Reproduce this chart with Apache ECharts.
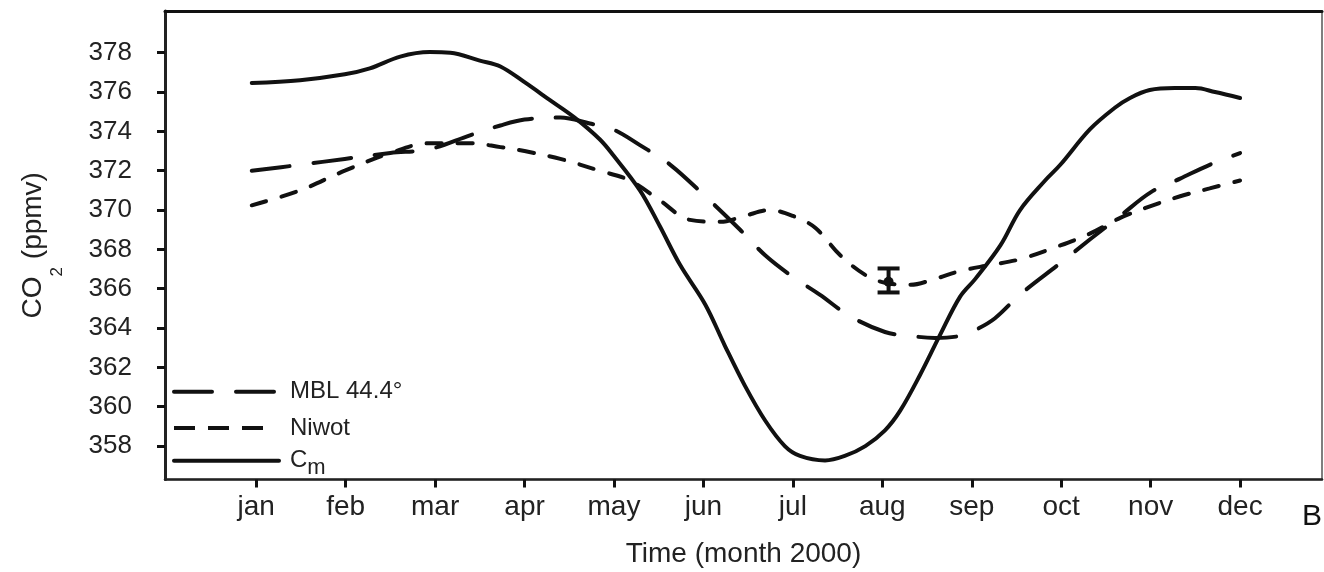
<!DOCTYPE html>
<html>
<head>
<meta charset="utf-8">
<title>CO2 seasonal cycle 2000</title>
<script src="https://cdn.jsdelivr.net/npm/echarts@6/dist/echarts.min.js"></script>
<style>
  html, body { margin: 0; padding: 0; background: #fff; }
  #chart { width: 1324px; height: 572px; }
</style>
</head>
<body>
<div id="chart"></div>
<script>
// Month tick positions and their labels
const monthTicks = [1, 2, 3, 4, 5, 6, 7, 8, 9, 10, 11, 12];
const monthNames = ['jan', 'feb', 'mar', 'apr', 'may', 'jun', 'jul', 'aug', 'sep', 'oct', 'nov', 'dec'];
const co2Ticks = [358, 360, 362, 364, 366, 368, 370, 372, 374, 376, 378];

// C_m curve (fractional month, ppmv)
const cmMonth = [0.95, 1.49, 1.99, 2.27, 2.61, 2.94, 3.17, 3.50, 3.73, 4.00, 4.28, 4.56, 4.84, 4.99, 5.29, 5.51, 5.74, 6.02, 6.24, 6.46, 6.69, 6.91, 7.08, 7.36, 7.58, 7.81, 8.03, 8.20, 8.42, 8.64, 8.87, 9.04, 9.32, 9.54, 9.82, 9.99, 10.32, 10.60, 10.77, 10.99, 11.27, 11.50, 11.72, 12.00];
const cmValue = [376.46, 376.6, 376.9, 377.2, 377.8, 378.03, 378.0, 377.6, 377.3, 376.5, 375.6, 374.7, 373.6, 372.8, 371.0, 369.2, 367.2, 365.2, 363.1, 361.1, 359.3, 358.0, 357.5, 357.27, 357.5, 358.0, 358.8, 359.8, 361.6, 363.6, 365.6, 366.5, 368.2, 370.0, 371.5, 372.3, 374.1, 375.2, 375.7, 376.1, 376.2, 376.2, 376.0, 375.7];

// MBL 44.4° curve
const mblMonth = [0.95, 1.49, 1.99, 2.50, 2.94, 3.39, 3.73, 4.00, 4.40, 4.73, 4.99, 5.29, 5.63, 6.02, 6.41, 6.69, 7.00, 7.30, 7.64, 8.03, 8.31, 8.59, 8.87, 9.04, 9.26, 9.54, 9.99, 10.32, 10.66, 11.00, 11.33, 11.66, 12.00];
const mblValue = [372.0, 372.3, 372.6, 372.9, 373.1, 373.8, 374.3, 374.6, 374.7, 374.4, 374.1, 373.3, 372.3, 370.7, 369.0, 367.7, 366.6, 365.7, 364.6, 363.8, 363.6, 363.5, 363.6, 363.9, 364.5, 365.7, 367.3, 368.5, 369.7, 370.9, 371.6, 372.3, 372.9];

// Niwot curve
const nwMonth = [0.95, 1.49, 1.99, 2.50, 2.94, 3.39, 3.73, 4.00, 4.40, 4.84, 5.18, 5.51, 5.85, 6.19, 6.46, 6.74, 7.00, 7.25, 7.53, 7.81, 8.03, 8.31, 8.59, 8.87, 9.20, 9.54, 9.99, 10.32, 10.66, 11.00, 11.33, 11.66, 12.00];
const nwValue = [370.24, 371.0, 372.0, 372.9, 373.4, 373.4, 373.2, 373.0, 372.6, 372.0, 371.5, 370.5, 369.5, 369.4, 369.7, 370.0, 369.7, 369.1, 367.7, 366.7, 366.3, 366.2, 366.5, 366.9, 367.2, 367.5, 368.2, 368.8, 369.6, 370.2, 370.7, 371.1, 371.5];

// Niwot August mean with its error range
const errMonth = [8.07];
const errCenter = [366.35];
const errLow = [365.81];
const errHigh = [367.03];

const seriesNames = ['MBL 44.4°', 'Niwot', 'Cm'];

const pairs = (xs, ys) => xs.map((x, i) => [x, ys[i]]);

const INK = '#111';
const TEXT = '#222';
const FONT = '"Liberation Sans", Arial, sans-serif';

const dashLong = [38, 24];
const dashShort = [15, 16];

const chart = echarts.init(document.getElementById('chart'), null, { renderer: 'canvas' });

// One legend block per series so each row sits at its own height
function legendRow(top, name, line, iconWidth, extra) {
  return Object.assign({
    orient: 'vertical',
    left: 172,
    top: top,
    padding: 0,
    itemWidth: iconWidth,
    itemHeight: 14,
    selectedMode: false,
    data: [name],
    itemStyle: { opacity: 0 },
    lineStyle: Object.assign({ color: INK, width: 4, opacity: 1 }, line),
    textStyle: {
      fontFamily: FONT, fontSize: 24, lineHeight: 24, color: TEXT,
      padding: [0, 0, 0, 6 + (105 - iconWidth)],
      rich: { s: { fontFamily: FONT, fontSize: 22, lineHeight: 24, color: TEXT, padding: [14, 0, 0, 0] } }
    }
  }, extra || {});
}

const option = {
  animation: false,
  backgroundColor: '#fff',
  grid: {
    left: 165, right: 2, top: 11, bottom: 92.5,
    outerBoundsMode: 'none', containLabel: false,
    show: true, borderColor: '#555', borderWidth: 1.5, backgroundColor: 'transparent'
  },
  legend: [
    legendRow(379.7, seriesNames[0], { type: dashLong, cap: 'round' }, 105),
    legendRow(416, seriesNames[1], { type: [21, 13], cap: 'butt' }, 90),
    legendRow(442.7, seriesNames[2], { type: 'solid', cap: 'round' }, 105, { formatter: () => 'C{s|m}' })
  ],
  xAxis: [
    {
      type: 'value', min: -0.02, max: 12.916, position: 'bottom',
      name: 'Time (month 2000)', nameLocation: 'middle', nameGap: 61,
      nameTextStyle: { fontFamily: FONT, fontSize: 28, color: TEXT },
      splitLine: { show: false },
      axisLine: { show: true, onZero: false, lineStyle: { color: '#222', width: 2.5 } },
      axisTick: { show: true, customValues: monthTicks, length: 8, lineStyle: { color: '#111', width: 3 } },
      axisLabel: {
        customValues: monthTicks, margin: 14,
        fontFamily: FONT, fontSize: 28, color: TEXT,
        formatter: v => monthNames[Math.round(v) - 1] || ''
      }
    },
    {
      type: 'value', min: -0.02, max: 12.916, position: 'top',
      splitLine: { show: false },
      axisLine: { show: true, onZero: false, lineStyle: { color: '#111', width: 3 } },
      axisTick: { show: false }, axisLabel: { show: false }
    }
  ],
  yAxis: {
    type: 'value', min: 356.3, max: 380.12,
    name: '{a|CO}{s|2}{a| (ppmv)}', nameLocation: 'middle', nameRotate: 90, nameGap: 117,
    nameTextStyle: {
      fontFamily: FONT, color: TEXT,
      rich: {
        a: { fontFamily: FONT, fontSize: 28, lineHeight: 30, color: TEXT },
        s: { fontFamily: FONT, fontSize: 17, lineHeight: 17, color: TEXT, padding: [48, 0, 0, 0] }
      }
    },
    splitLine: { show: false },
    axisLine: { show: true, onZero: false, lineStyle: { color: '#222', width: 3 } },
    axisTick: { show: true, customValues: co2Ticks, length: 8, lineStyle: { color: '#111', width: 3 } },
    axisLabel: { customValues: co2Ticks, margin: 33, fontFamily: FONT, fontSize: 26, color: TEXT }
  },
  series: [
    {
      name: seriesNames[0], type: 'line', data: pairs(mblMonth, mblValue),
      showSymbol: false, symbol: 'none', smooth: 0.35, color: INK,
      lineStyle: { color: INK, width: 4, type: dashLong, cap: 'round' }
    },
    {
      name: seriesNames[1], type: 'line', data: pairs(nwMonth, nwValue),
      showSymbol: false, symbol: 'none', smooth: 0.35, color: INK,
      lineStyle: { color: INK, width: 4, type: dashShort, cap: 'round' }
    },
    {
      name: seriesNames[2], type: 'line', data: pairs(cmMonth, cmValue),
      showSymbol: false, symbol: 'none', smooth: 0.35, color: INK,
      lineStyle: { color: INK, width: 4, type: 'solid', cap: 'round' }
    },
    {
      name: 'error', type: 'custom',
      data: errMonth.map((m, i) => [m, errCenter[i], errLow[i], errHigh[i]]),
      renderItem: (params, api) => {
        const mid = api.coord([api.value(0), api.value(1)]);
        const lo = api.coord([api.value(0), api.value(2)]);
        const hi = api.coord([api.value(0), api.value(3)]);
        const half = 11;
        const st = { stroke: INK, lineWidth: 4, fill: null };
        return {
          type: 'group',
          children: [
            { type: 'line', shape: { x1: mid[0], y1: hi[1], x2: mid[0], y2: lo[1] }, style: st },
            { type: 'line', shape: { x1: mid[0] - half, y1: hi[1], x2: mid[0] + half, y2: hi[1] }, style: st },
            { type: 'line', shape: { x1: mid[0] - half, y1: lo[1], x2: mid[0] + half, y2: lo[1] }, style: st },
            { type: 'circle', shape: { cx: mid[0], cy: mid[1], r: 5 }, style: { fill: INK } }
          ]
        };
      }
    }
  ],
  graphic: [
    { type: 'text', left: 1302, top: 502, style: { text: 'B', fontFamily: FONT, fontSize: 30, fill: '#111' } }
  ]
};

chart.setOption(option);
</script>
</body>
</html>
